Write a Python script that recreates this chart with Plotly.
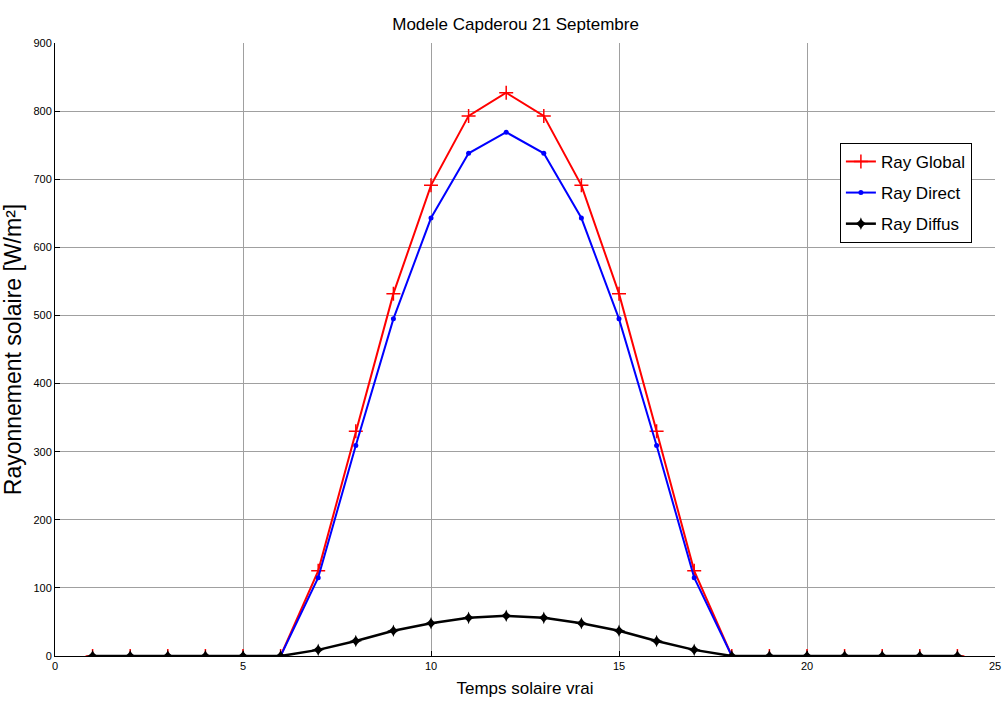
import plotly.graph_objects as go

hours = list(range(1, 25))
ray_global = [0, 0, 0, 0, 0, 0, 125, 330, 532, 691, 793, 827, 793, 691, 532, 330, 125, 0, 0, 0, 0, 0, 0, 0]
ray_direct = [0, 0, 0, 0, 0, 0, 115, 309, 495, 643, 738, 769, 738, 643, 495, 309, 115, 0, 0, 0, 0, 0, 0, 0]
ray_diffus = [0, 0, 0, 0, 0, 0, 9, 22, 37, 48, 56, 59, 56, 48, 37, 22, 9, 0, 0, 0, 0, 0, 0, 0]

x_ticks = [0, 5, 10, 15, 20, 25]
y_ticks = [0, 100, 200, 300, 400, 500, 600, 700, 800, 900]

FONT = "Liberation Sans, Arial"

fig = go.Figure()
fig.add_trace(go.Scatter(x=hours, y=ray_global, mode="lines+markers", name="Ray Global", legendgroup="g",
                         line=dict(color="#ff0000", width=2),
                         marker=dict(symbol="cross-thin", size=10, line=dict(color="#ff0000", width=1.5))))
fig.add_trace(go.Scatter(x=hours, y=ray_direct, mode="lines+markers", name="Ray Direct", legendgroup="d",
                         line=dict(color="#0000ff", width=2),
                         marker=dict(symbol="circle", size=5, color="#0000ff")))
fig.add_trace(go.Scatter(x=hours, y=ray_diffus, mode="lines+markers", name="Ray Diffus", legendgroup="f",
                         line=dict(color="#000000", width=2.5),
                         marker=dict(symbol="star-diamond", size=9, color="#000000")))

fig.update_layout(
    width=1004, height=707,
    margin=dict(l=55, r=9, t=43, b=51, autoexpand=False),
    paper_bgcolor="white", plot_bgcolor="white",
    font=dict(family=FONT, color="black", size=11),
    title=dict(text="Modele Capderou 21 Septembre", x=0.49, xref="paper", xanchor="center",
               y=1 - 24/707, yanchor="middle",
               font=dict(size=17, family=FONT)),
    legend=dict(x=0.835, y=0.837, xanchor="left", yanchor="top",
                bordercolor="black", borderwidth=1, bgcolor="white",
                font=dict(size=17, family=FONT), tracegroupgap=6, itemwidth=30,
                traceorder="grouped"),
    showlegend=True,
)
fig.update_xaxes(range=[0, 25], tickvals=x_ticks, ticktext=[str(v) for v in x_ticks],
                 automargin=False,
                 showgrid=True, gridcolor="#a0a0a0", gridwidth=1,
                 showline=True, linecolor="black", linewidth=1, mirror=False,
                 ticks="inside", ticklen=5, tickcolor="black", zeroline=False,
                 tickfont=dict(size=11, family=FONT),
                 title=dict(text="Temps solaire vrai", font=dict(size=17, family=FONT), standoff=10))
fig.update_yaxes(range=[0, 900], tickvals=y_ticks, ticktext=[str(v) for v in y_ticks],
                 automargin=False,
                 showgrid=True, gridcolor="#a0a0a0", gridwidth=1,
                 showline=True, linecolor="black", linewidth=1, mirror=False,
                 ticks="inside", ticklen=5, tickcolor="black", zeroline=False,
                 tickfont=dict(size=11, family=FONT),
                 title=dict(text="Rayonnement solaire [W/m²]", font=dict(size=23, family=FONT), standoff=8))

fig.write_html("out.html")
